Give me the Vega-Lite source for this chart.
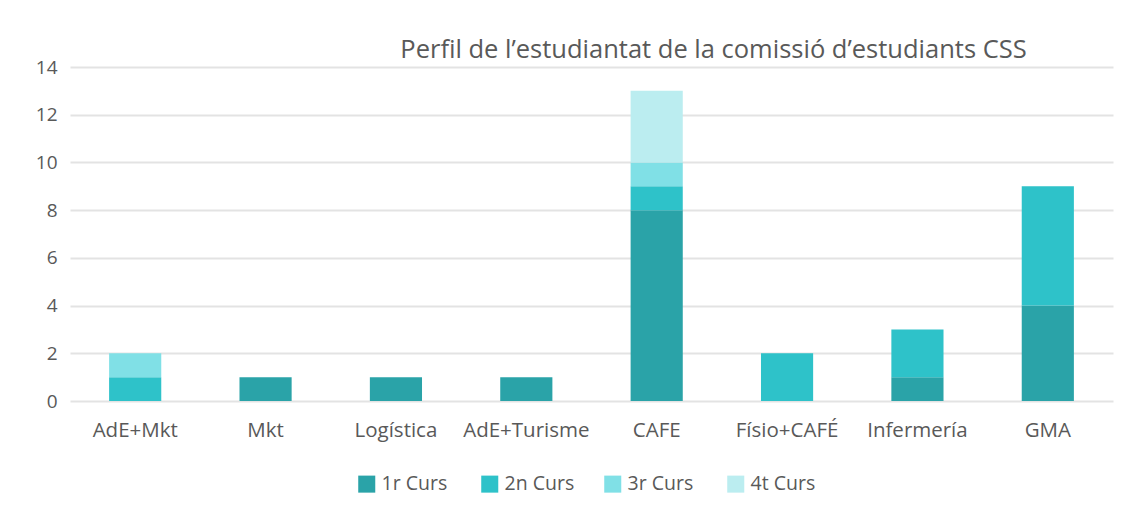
{
  "$schema": "https://vega.github.io/schema/vega-lite/v6.json",
  "width": 1043,
  "height": 334,
  "autosize": {"type": "none"},
  "padding": {"left": 70, "top": 67, "right": 18, "bottom": 117},
  "background": "white",
  "title": {
    "text": "Perfil de l’estudiantat de la comissió d’estudiants CSS",
    "anchor": "middle",
    "dx": 122,
    "offset": -5,
    "font": "Open Sans",
    "fontSize": 25.5,
    "fontWeight": "normal",
    "color": "#595959"
  },
  "data": {
    "values": [
      {"grau": "AdE+Mkt", "curs": "2n Curs", "n": 1},
      {"grau": "AdE+Mkt", "curs": "3r Curs", "n": 1},
      {"grau": "Mkt", "curs": "1r Curs", "n": 1},
      {"grau": "Logística", "curs": "1r Curs", "n": 1},
      {"grau": "AdE+Turisme", "curs": "1r Curs", "n": 1},
      {"grau": "CAFE", "curs": "1r Curs", "n": 8},
      {"grau": "CAFE", "curs": "2n Curs", "n": 1},
      {"grau": "CAFE", "curs": "3r Curs", "n": 1},
      {"grau": "CAFE", "curs": "4t Curs", "n": 3},
      {"grau": "Físio+CAFÉ", "curs": "2n Curs", "n": 2},
      {"grau": "Infermería", "curs": "1r Curs", "n": 1},
      {"grau": "Infermería", "curs": "2n Curs", "n": 2},
      {"grau": "GMA", "curs": "1r Curs", "n": 4},
      {"grau": "GMA", "curs": "2n Curs", "n": 5}
    ]
  },
  "mark": {"type": "bar"},
  "encoding": {
    "x": {
      "field": "grau",
      "type": "nominal",
      "sort": ["AdE+Mkt", "Mkt", "Logística", "AdE+Turisme", "CAFE", "Físio+CAFÉ", "Infermería", "GMA"],
      "scale": {"paddingInner": 0.6, "paddingOuter": 0.3},
      "axis": {
        "title": null,
        "labelAngle": 0,
        "labelFont": "Open Sans",
        "labelFontSize": 20.5,
        "labelColor": "#595959",
        "labelPadding": 19,
        "domain": false,
        "ticks": false,
        "grid": false
      }
    },
    "y": {
      "field": "n",
      "type": "quantitative",
      "aggregate": "sum",
      "stack": "zero",
      "scale": {"domain": [0, 14]},
      "axis": {
        "title": null,
        "values": [0, 2, 4, 6, 8, 10, 12, 14],
        "labelFont": "Open Sans",
        "labelFontSize": 19,
        "labelColor": "#595959",
        "labelPadding": 13,
        "domain": false,
        "ticks": false,
        "gridColor": "#e3e3e3",
        "gridWidth": 2
      }
    },
    "color": {
      "field": "curs",
      "type": "nominal",
      "scale": {
        "domain": ["1r Curs", "2n Curs", "3r Curs", "4t Curs"],
        "range": ["#2aa3a8", "#2ec2c9", "#80e0e6", "#bbedf0"]
      },
      "legend": {
        "title": null,
        "orient": "none",
        "legendX": 287,
        "legendY": 407,
        "direction": "horizontal",
        "columns": 4,
        "gridAlign": "all",
        "symbolType": "square",
        "symbolSize": 290,
        "symbolStrokeWidth": 0,
        "labelFont": "Open Sans",
        "labelFontSize": 19.5,
        "labelColor": "#595959",
        "columnPadding": 28,
        "labelOffset": 5
      }
    },
    "order": {"field": "curs", "sort": "ascending"}
  },
  "config": {"view": {"stroke": null}}
}
